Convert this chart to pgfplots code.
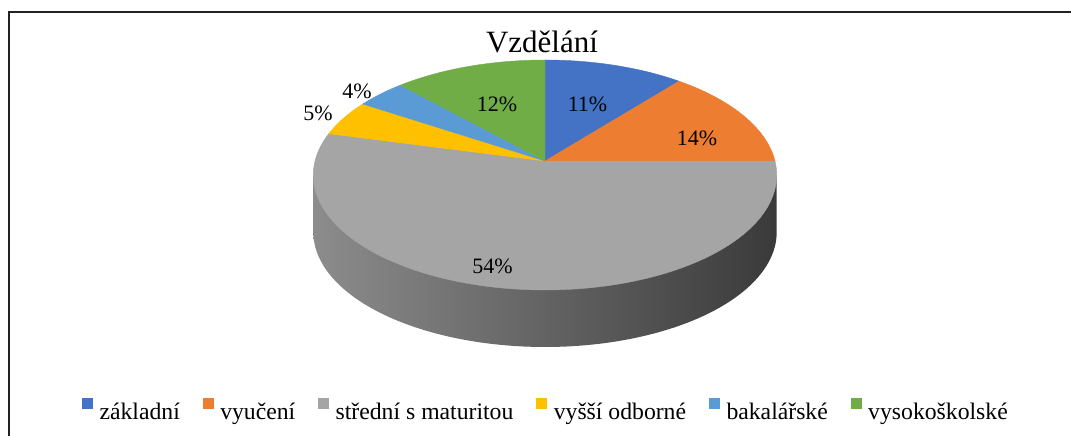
\documentclass[border=0pt]{standalone}
\usepackage{fontspec}
\setmainfont{Liberation Serif}
\usepackage{pgfplots}
\pgfplotsset{compat=1.18}
\usepackage{pgfplotstable}
\definecolor{cblue}{HTML}{4472C4}
\definecolor{corange}{HTML}{ED7D31}
\definecolor{cgray}{HTML}{A5A5A5}
\definecolor{cyellow}{HTML}{FFC000}
\definecolor{clblue}{HTML}{5B9BD5}
\definecolor{cgreen}{HTML}{70AD47}
\definecolor{sideL}{HTML}{8C8C8C}
\definecolor{sideM}{HTML}{4C4C4C}
\definecolor{sideR}{HTML}{3A3A3A}
\definecolor{frame}{HTML}{222222}

\pgfplotstableread{
idx value
0 11
1 14
2 54
3 5
4 4
5 12
}\pietable

\newcommand\pieval[1]{\pgfplotstablegetelem{#1}{value}\of\pietable}
\pgfmathsetmacro\aA{90}
\pieval{0}\pgfmathsetmacro\aB{\aA-3.6*\pgfplotsretval}
\pieval{1}\pgfmathsetmacro\aC{\aB-3.6*\pgfplotsretval}
\pieval{2}\pgfmathsetmacro\aD{\aC-3.6*\pgfplotsretval}
\pieval{3}\pgfmathsetmacro\aE{\aD-3.6*\pgfplotsretval}
\pieval{4}\pgfmathsetmacro\aF{\aE-3.6*\pgfplotsretval}
\pieval{5}\pgfmathsetmacro\aG{\aF-3.6*\pgfplotsretval}

% perspective projection of the pie rim
\newcommand\PX[1]{545+230*cos(#1)/(1+0.1217*sin(#1))}
\newcommand\PY[1]{161-113.3*sin(#1)/(1+0.1217*sin(#1))}

\begin{document}
\begin{tikzpicture}
\useasboundingbox (0,0) rectangle (1071pt,436pt);
\begin{axis}[
  hide axis, scale only axis, width=1071pt, height=436pt,
  xmin=0, xmax=1071, ymin=0, ymax=436, y dir=reverse, clip=false,
  legend image code/.code={\fill (0pt,3pt) rectangle (10pt,13pt);},
  legend style={at={(axis cs:545,409.5)}, anchor=center, draw=none, fill=none,
    legend columns=6, font=\fontsize{23.7}{28}\selectfont,
    nodes={inner sep=0pt},
    /tikz/every odd column/.append style={column sep=7pt},
    /tikz/every even column/.append style={column sep=23pt}},
]
% side of the pie
\addplot[forget plot, draw=none, left color=sideL, middle color=sideM, right color=sideR,
  domain=187:353, samples=90, variable=\t]
  ({\PX{\t}},{\PY{\t}+57}) -- (axis cs:776.7,175) -- (axis cs:313.3,175) -- cycle;
% top faces
\addplot[fill=cblue, draw=cblue, line width=0.4pt, domain=\aB:\aA, samples=40, variable=\t]
  ({\PX{\t}},{\PY{\t}}) -- (axis cs:545,161) -- cycle;
\addlegendentry{základní}
\addplot[fill=corange, draw=corange, line width=0.4pt, domain=\aC:\aB, samples=40, variable=\t]
  ({\PX{\t}},{\PY{\t}}) -- (axis cs:545,161) -- cycle;
\addlegendentry{vyučení}
\addplot[fill=cgray, draw=cgray, line width=0.4pt, domain=\aD:\aC, samples=120, variable=\t]
  ({\PX{\t}},{\PY{\t}}) -- (axis cs:545,161) -- cycle;
\addlegendentry{střední s maturitou}
\addplot[fill=cyellow, draw=cyellow, line width=0.4pt, domain=\aE:\aD, samples=20, variable=\t]
  ({\PX{\t}},{\PY{\t}}) -- (axis cs:545,161) -- cycle;
\addlegendentry{vyšší odborné}
\addplot[fill=clblue, draw=clblue, line width=0.4pt, domain=\aF:\aE, samples=20, variable=\t]
  ({\PX{\t}},{\PY{\t}}) -- (axis cs:545,161) -- cycle;
\addlegendentry{bakalářské}
\addplot[fill=cgreen, draw=cgreen, line width=0.4pt, domain=\aG:\aF, samples=40, variable=\t]
  ({\PX{\t}},{\PY{\t}}) -- (axis cs:545,161) -- cycle;
\addlegendentry{vysokoškolské}
% title and data labels
\node[anchor=base, font=\fontsize{31}{36}\selectfont] at (axis cs:542,53) {Vzdělání};
\node[anchor=base, font=\fontsize{22}{26}\selectfont] at (axis cs:587.5,111) {11\%};
\node[anchor=base, font=\fontsize{22}{26}\selectfont] at (axis cs:697,145) {14\%};
\node[anchor=base, font=\fontsize{22}{26}\selectfont] at (axis cs:492.5,273) {54\%};
\node[anchor=base, font=\fontsize{22}{26}\selectfont] at (axis cs:318,120) {5\%};
\node[anchor=base, font=\fontsize{22}{26}\selectfont] at (axis cs:357,98) {4\%};
\node[anchor=base, font=\fontsize{22}{26}\selectfont] at (axis cs:497,111) {12\%};
% frame
\draw[line width=2pt, frame] (axis cs:9,436) -- (axis cs:9,12) -- (axis cs:1071,12);
\end{axis}
\end{tikzpicture}
\end{document}
